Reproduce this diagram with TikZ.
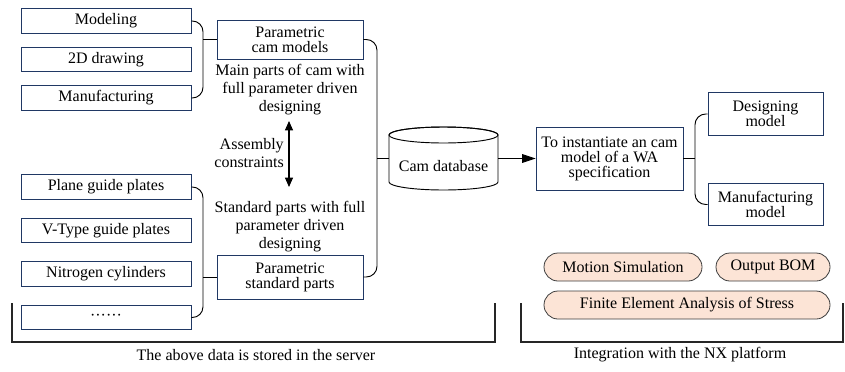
\documentclass[tikz,border=0pt]{standalone}
\usepackage{fontspec}
\setmainfont{Liberation Serif}
\usetikzlibrary{arrows.meta,calc}
\definecolor{navy}{RGB}{32,56,100}
\definecolor{peach}{RGB}{252,228,214}
\definecolor{pillline}{RGB}{60,60,60}
\begin{document}
\begin{tikzpicture}[x=0.75pt,y=-0.75pt,
  font=\fontsize{12}{13.5}\selectfont,
  box/.style={draw=navy,line width=0.65pt,inner sep=0pt,align=center,
    font=\fontsize{12}{11.25}\selectfont},
  leaf/.style={box,minimum width=127.5pt,minimum height=18.5pt},
  part/.style={box,minimum width=109.5pt},
  side/.style={box,minimum width=86.25pt,minimum height=32pt},
  pill/.style={draw=pillline,fill=peach,line width=0.6pt,rounded corners=10.5pt,
    minimum height=21pt,inner sep=0pt},
  link/.style={line width=0.7pt,rounded corners=8pt},
  bracket/.style={line width=1pt,draw=black!85},
  note/.style={align=center,inner sep=0pt}]
\useasboundingbox (0,0) rectangle (845,371);

% left column: drawing types and standard part families
\node[leaf] (mod)   at (106,21)    {Modeling};
\node[leaf] (d2)    at (106,59.5)  {2D drawing};
\node[leaf] (manu)  at (106,98)    {Manufacturing};
\node[leaf] (plane) at (106,187)   {Plane guide plates};
\node[leaf] (vtype) at (106,230.5) {V-Type guide plates};
\node[leaf] (nitro) at (106,274)   {Nitrogen cylinders};
\node[leaf] (dots)  at (106,317.5) {\textperiodcentered\textperiodcentered\textperiodcentered\textperiodcentered\textperiodcentered\textperiodcentered};

% parametric groups
\node[part,minimum height=29.25pt] (pcm) at (290,39.5) {Parametric\\cam models};
\node[part,minimum height=33pt]    (psp) at (290,277)  {Parametric\\standard parts};
\node[note] (mainp) at (290,90)  {Main parts of cam with\\full parameter driven\\designing};
\node[note] (stdp)  at (290,227) {Standard parts with full\\parameter driven\\designing};
\node[note,align=right,anchor=east] (asm) at (284,153) {Assembly\\constraints};
\coordinate (atop) at (289,121);
\coordinate (abot) at (289,187);
\draw[line width=0.8pt,{Triangle[length=7pt,width=6pt]}-{Triangle[length=7pt,width=6pt]}] (atop) -- (abot);

% braces joining the leaves to their groups
\coordinate (b1) at (203,0);
\coordinate (b2) at (377,0);
\draw[link] (mod.east) -- (mod.east -| b1) -- (manu.east -| b1) -- (manu.east);
\draw[link] (pcm.west) -- (pcm.west -| b1);
\draw[link] (plane.east) -- (plane.east -| b1) -- (dots.east -| b1) -- (dots.east);
\draw[link] (psp.west) -- (psp.west -| b1);

% database cylinder
\node[minimum width=81.75pt,minimum height=47.25pt,inner sep=0pt] (db) at (443.5,158.5) {};
\draw[line width=0.7pt,fill=white]
  (389,135) -- (389,182) arc[start angle=180,end angle=360,x radius=54.5,y radius=-8]
  -- (498,135) arc[start angle=0,end angle=180,x radius=54.5,y radius=-8];
\draw[line width=0.7pt] (443.5,135) ellipse[x radius=54.5,y radius=8];
\node[note] (dbl) at (443.5,166) {Cam database};
\draw[link] (pcm.east) -- (pcm.east -| b2) -- (psp.east -| b2) -- (psp.east);
\draw[link] (db.west) -- (db.west -| b2);

% instantiation and outputs
\node[side,minimum width=110.25pt,minimum height=47.25pt] (inst) at (609.5,158.5)
  {To instantiate an cam\\model of a WA\\specification};
\draw[line width=0.7pt,-{Triangle[length=10pt,width=6.5pt]}] (db.east) -- (inst.west);
\node[side] (desm) at (765.5,114)   {Designing\\model};
\node[side] (manm) at (765.5,204.5) {Manufacturing\\model};
\coordinate (b3) at (695,0);
\draw[link] (inst.east) -- (inst.east -| b3);
\draw[link] (desm.west) -- (desm.west -| b3) -- (manm.west -| b3) -- (manm.west);

% NX platform functions
\node[pill,minimum width=118.5pt] (mot) at (623,267) {Motion Simulation};
\node[pill,minimum width=85.5pt]  (bom) at (773,267) {Output BOM};
\node[pill,minimum width=214.5pt] (fea) at (687,305) {Finite Element Analysis of Stress};

% grouping brackets
\draw[bracket] (12,303) -- (12,342) -- (495,342) -- (495,303);
\draw[bracket] (521,303) -- (521,342) -- (843,342) -- (843,303);
\node[note] (srv) at (256,355) {The above data is stored in the server};
\node[note] (nx)  at (680,355) {Integration with the NX platform};
\end{tikzpicture}
\end{document}
